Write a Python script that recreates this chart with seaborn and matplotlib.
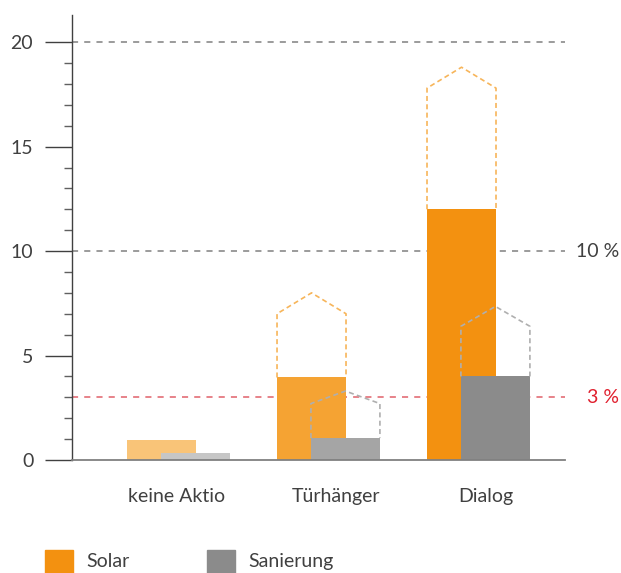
import matplotlib.pyplot as plt
import matplotlib.patches as mpatches
import numpy as np
import seaborn as sns

# Daten
groups = ['keine Aktio', 'Türhänger', 'Dialog']
solar = [0.95, 3.95, 12.0]
sanierung = [0.33, 1.05, 4.0]
# gestrichelte "Haus"-Umrisse (Wandhöhe, Dachspitze)
solar_wall = [np.nan, 7.0, 17.8]
solar_roof = [np.nan, 8.0, 18.8]
san_wall = [np.nan, 2.7, 6.4]
san_roof = [np.nan, 3.3, 7.35]
ref_lines = [20, 10, 3]
ref_labels = {10: '10 %', 3: '3 %'}

solar_colors = ['#F9C478', '#F5A333', '#F39110']
san_colors = ['#C6C6C6', '#A5A5A5', '#8B8B8B']

sns.set_theme(style='white')
plt.rcParams['font.family'] = ['Lato', 'DejaVu Sans']
text_col = '#404040'

fig = plt.figure(figsize=(6.21, 5.73), dpi=100)
ax = fig.add_axes([72 / 621, 113 / 573, 493 / 621, 445 / 573])

width = 0.46
off = 0.113
xs = np.arange(len(groups))

# Referenzlinien hinter den Balken
for y in ref_lines:
    col = '#E0606A' if y == 3 else '#808080'
    ax.axhline(y, color=col, lw=1.1, ls=(0, (4, 4)), zorder=0.5)

sns.barplot(x=xs - off, y=solar, native_scale=True, width=width,
            color=solar_colors[-1], ax=ax, zorder=2, linewidth=0)
n1 = len(ax.patches)
sns.barplot(x=xs + off, y=sanierung, native_scale=True, width=width,
            color=san_colors[-1], ax=ax, zorder=2.1, linewidth=0)
for i, p in enumerate(ax.patches[:n1]):
    p.set_facecolor(solar_colors[i])
for i, p in enumerate(ax.patches[n1:]):
    p.set_facecolor(san_colors[i])


def house(cx, base, wall, roof, color):
    if np.isnan(wall):
        return
    l, r = cx - width / 2, cx + width / 2
    ax.plot([l, l, cx, r, r], [base, wall, roof, wall, base],
            color=color, lw=1.2, ls=(0, (3, 2)), zorder=3,
            solid_capstyle='butt', clip_on=False)


for i in range(len(groups)):
    house(xs[i] - off, solar[i], solar_wall[i], solar_roof[i], '#F7B55A')
    house(xs[i] + off, sanierung[i], san_wall[i], san_roof[i], '#AFAFAF')

ax.set_xlim(-0.71, 2.577)
ax.set_ylim(0, 21.3)
# Beschriftungen leicht versetzt wie im Original
ax.set_xticks(xs + np.array([-0.01, 0.05, 0.05]))
ax.set_xticklabels(groups)
ax.set_yticks([0, 5, 10, 15, 20])
ax.set_yticks(np.arange(0, 21, 1), minor=True)
ax.tick_params(axis='y', which='major', direction='out', length=19.4, width=1,
               color='#404040', pad=8.5, labelsize=14, labelcolor=text_col, left=True)
ax.tick_params(axis='y', which='minor', direction='out', length=5.8, width=1,
               color='#606060', left=True)
ax.tick_params(axis='x', length=0, pad=20, labelsize=14, labelcolor=text_col)

sns.despine(ax=ax, top=True, right=True)
ax.spines['left'].set_color('#404040')
ax.spines['bottom'].set_color('#808080')
ax.spines['left'].set_linewidth(1)
ax.spines['bottom'].set_linewidth(1.3)
ax.set_xlabel('')
ax.set_ylabel('')

for y, lab in ref_labels.items():
    ax.text(1.1095, y, lab, transform=ax.get_yaxis_transform(), ha='right',
            va='center', fontsize=14, color='#E0202E' if y == 3 else text_col,
            clip_on=False)

# Legende unten
for x0, tx, col, lab in [(45, 86, solar_colors[-1], 'Solar'),
                         (207, 248, san_colors[-1], 'Sanierung')]:
    fig.patches.append(mpatches.Rectangle((x0 / 621, -5 / 573), 28 / 621, 28 / 573,
                                          transform=fig.transFigure, color=col))
    fig.text(tx / 621, 6 / 573, lab, fontsize=14, color=text_col, va='baseline')

fig.savefig('out.png', dpi=100)
